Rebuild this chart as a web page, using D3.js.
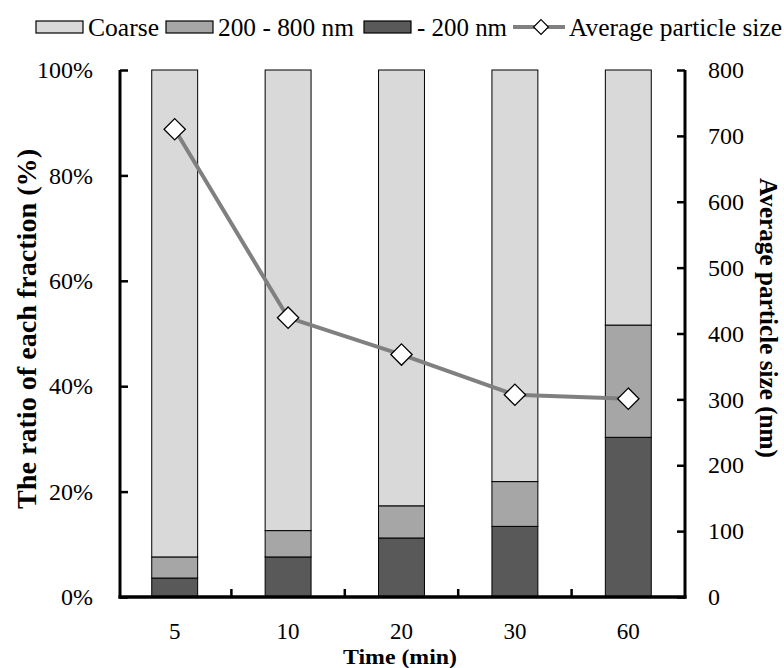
<!DOCTYPE html>
<html>
<head>
<meta charset="utf-8">
<script src="https://cdn.jsdelivr.net/npm/d3@7"></script>
<style>
  body { margin: 0; background: #fff; }
  svg { display: block; font-family: "Liberation Serif", "Times New Roman", "DejaVu Serif", serif; }
</style>
</head>
<body>
<div id="chart"></div>
<script>
// data
const times = ["5", "10", "20", "30", "60"];
const fine = [3.6, 7.6, 11.2, 13.4, 30.3];       // - 200 nm (%)
const middle = [4.0, 5.0, 6.1, 8.5, 21.3];       // 200 - 800 nm (%)
const coarse = [92.4, 87.4, 82.7, 78.1, 48.4];   // Coarse (%)
const avgSize = [710, 424, 368, 307, 301];       // nm
const leftTicks = [0, 20, 40, 60, 80, 100];
const rightTicks = [0, 100, 200, 300, 400, 500, 600, 700, 800];

const width = 784, height = 668;
const m = { left: 118, right: 99, top: 70, bottom: 71 };
const serif = "'Liberation Serif', 'Times New Roman', 'DejaVu Serif', serif";

const svg = d3.select("#chart").append("svg")
  .attr("width", width)
  .attr("height", height);

const x = d3.scaleBand()
  .domain(times)
  .range([m.left, width - m.right])
  .paddingInner(0.595)
  .paddingOuter(0.2975);

const yL = d3.scaleLinear().domain([0, 100]).range([height - m.bottom, m.top]);
const yR = d3.scaleLinear().domain([0, 800]).range([height - m.bottom, m.top]);

const series = [
  { key: "- 200 nm", values: fine, color: "#595959" },
  { key: "200 - 800 nm", values: middle, color: "#a6a6a6" },
  { key: "Coarse", values: coarse, color: "#d9d9d9" }
];

const rows = times.map((t, i) => {
  const r = { time: t };
  series.forEach(s => r[s.key] = s.values[i]);
  return r;
});
const stack = d3.stack().keys(series.map(s => s.key))(rows);

svg.append("g").selectAll("g")
  .data(stack)
  .enter().append("g")
    .attr("fill", (d, i) => series[i].color)
  .selectAll("rect")
    .data(d => d)
  .enter().append("rect")
    .attr("x", d => x(d.data.time))
    .attr("width", x.bandwidth())
    .attr("y", d => yL(d[1]))
    .attr("height", d => yL(d[0]) - yL(d[1]))
    .attr("stroke", "#000")
    .attr("stroke-width", 1);

// axes
const axisW = 3;
const x0 = m.left + 2, x1 = width - m.right;
const yb = height - m.bottom;

const left = svg.append("g").attr("transform", `translate(${x0},0)`)
  .call(d3.axisLeft(yL).tickValues(leftTicks).tickSize(-8).tickPadding(27)
    .tickFormat(d => d + "%"));
const right = svg.append("g").attr("transform", `translate(${x1},0)`)
  .call(d3.axisRight(yR).tickValues(rightTicks).tickSize(-8).tickPadding(23));
const bottom = svg.append("g").attr("transform", `translate(0,${yb})`)
  .call(d3.axisBottom(x).tickSize(0).tickPadding(26));

[left, right, bottom].forEach(g => {
  g.attr("font-family", serif);
  g.select(".domain").remove();
  g.selectAll("line").attr("stroke", "#000").attr("stroke-width", 2.5);
  g.selectAll("text").attr("font-size", 24).attr("fill", "#000")
    .attr("font-family", serif);
});
bottom.selectAll("text").attr("font-size", 23);

// category boundary ticks on the bottom axis
svg.append("g").selectAll("line")
  .data(times.slice(1))
  .enter().append("line")
    .attr("x1", d => x(d) - x.step() * x.paddingInner() / 2)
    .attr("x2", d => x(d) - x.step() * x.paddingInner() / 2)
    .attr("y1", yb)
    .attr("y2", yb - 8)
    .attr("stroke", "#000")
    .attr("stroke-width", 2.5);

svg.append("line").attr("x1", x0).attr("x2", x0).attr("y1", m.top).attr("y2", yb + 1.5)
  .attr("stroke", "#000").attr("stroke-width", axisW);
svg.append("line").attr("x1", x1).attr("x2", x1).attr("y1", m.top).attr("y2", yb + 1.5)
  .attr("stroke", "#000").attr("stroke-width", axisW);
svg.append("line").attr("x1", x0 - 1.5).attr("x2", x1 + 1.5).attr("y1", yb).attr("y2", yb)
  .attr("stroke", "#000").attr("stroke-width", axisW + 0.5);

// average particle size line
const cx = d => x(d) + x.bandwidth() / 2;
const line = d3.line()
  .x((d, i) => cx(times[i]))
  .y(d => yR(d));

svg.append("path")
  .datum(avgSize)
  .attr("fill", "none")
  .attr("stroke", "#808080")
  .attr("stroke-width", 4)
  .attr("d", line);

const diamond = d3.symbol().type(d3.symbolDiamond2).size(290);
svg.append("g").selectAll("path")
  .data(avgSize)
  .enter().append("path")
    .attr("transform", (d, i) => `translate(${cx(times[i])},${yR(d)})`)
    .attr("d", diamond)
    .attr("fill", "#fff")
    .attr("stroke", "#000")
    .attr("stroke-width", 1.3);

// axis titles
svg.append("text")
  .attr("transform", `translate(36,329) rotate(-90)`)
  .attr("text-anchor", "middle")
  .attr("font-family", serif)
  .attr("font-size", 27).attr("font-weight", "bold")
  .attr("textLength", 360).attr("lengthAdjust", "spacingAndGlyphs")
  .text("The ratio of each fraction (%)");

svg.append("text")
  .attr("transform", `translate(760,318) rotate(90)`)
  .attr("text-anchor", "middle")
  .attr("font-family", serif)
  .attr("font-size", 25).attr("font-weight", "bold")
  .attr("textLength", 280).attr("lengthAdjust", "spacingAndGlyphs")
  .text("Average particle size (nm)");

svg.append("text")
  .attr("x", 400)
  .attr("y", 664)
  .attr("text-anchor", "middle")
  .attr("font-family", serif)
  .attr("font-size", 22).attr("font-weight", "bold")
  .attr("textLength", 114).attr("lengthAdjust", "spacingAndGlyphs")
  .text("Time (min)");

// legend
const legendItems = [
  { label: "Coarse", color: "#d9d9d9", x: 36, tx: 88, w: 71 },
  { label: "200 - 800 nm", color: "#a6a6a6", x: 166, tx: 218, w: 136 },
  { label: "- 200 nm", color: "#595959", x: 364, tx: 417, w: 90 }
];
const lg = svg.append("g").attr("font-family", serif);
legendItems.forEach(it => {
  lg.append("rect").attr("x", it.x).attr("y", 21).attr("width", 47).attr("height", 12)
    .attr("fill", it.color).attr("stroke", "#000").attr("stroke-width", 1.2);
  lg.append("text").attr("x", it.tx).attr("y", 36).attr("font-size", 25)
    .attr("textLength", it.w).attr("lengthAdjust", "spacingAndGlyphs")
    .text(it.label);
});
lg.append("line").attr("x1", 513).attr("x2", 565).attr("y1", 27).attr("y2", 27)
  .attr("stroke", "#808080").attr("stroke-width", 4);
lg.append("path").attr("transform", "translate(541,27)")
  .attr("d", d3.symbol().type(d3.symbolDiamond2).size(140))
  .attr("fill", "#fff").attr("stroke", "#000").attr("stroke-width", 1.2);
lg.append("text").attr("x", 569).attr("y", 36).attr("font-size", 25)
  .attr("textLength", 213).attr("lengthAdjust", "spacingAndGlyphs")
  .text("Average particle size");
</script>
</body>
</html>
